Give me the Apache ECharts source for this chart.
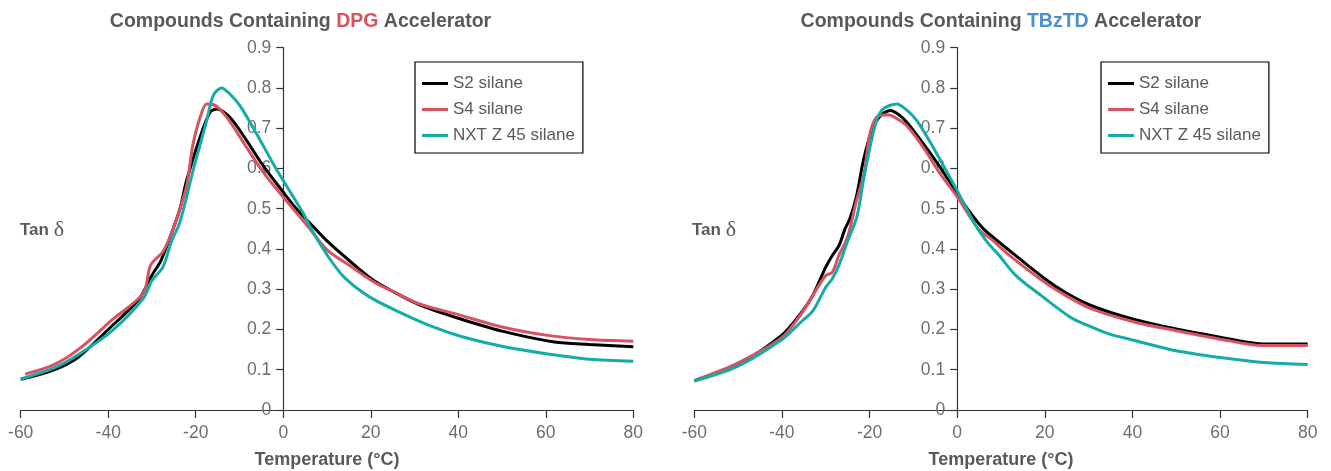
<!DOCTYPE html>
<html>
<head>
<meta charset="utf-8">
<script src="https://cdn.jsdelivr.net/npm/echarts@6/dist/echarts.min.js"></script>
<style>
html,body{margin:0;padding:0;background:#fff;}
#c{width:1331px;height:471px;}
</style>
</head>
<body>
<div id="c"></div>
<script>
// ---- Data ----
const seriesNames = ['S2 silane', 'S4 silane', 'NXT Z 45 silane'];
const xTicks = [-60, -40, -20, 0, 20, 40, 60, 80];
const yTicks = [0, 0.1, 0.2, 0.3, 0.4, 0.5, 0.6, 0.7, 0.8, 0.9];

// DPG accelerator (left panel)
const dpgS2_T = [-60,-53,-47,-40,-33,-30,-28,-25.5,-23.6,-22.1,-19,-16.7,-15.2,-12.2,-8.4,-4.6,0,3,6.9,10,15,20.5,25,31,40,50,62,70,80];
const dpgS2_V = [0.076,0.097,0.13,0.2,0.275,0.335,0.37,0.44,0.5,0.57,0.678,0.74,0.748,0.727,0.67,0.607,0.541,0.5,0.455,0.42,0.372,0.323,0.295,0.262,0.228,0.196,0.169,0.163,0.157];
const dpgS4_T = [-59,-52.5,-46.5,-39,-32,-30.3,-27.5,-25.5,-23.6,-22,-21.3,-20.6,-19,-17.5,-16,-12.9,-8.4,-4.6,0,5.7,10,15,20.7,25,31,40,50,60,70,80];
const dpgS4_V = [0.089,0.112,0.153,0.225,0.29,0.36,0.393,0.44,0.5,0.56,0.612,0.661,0.727,0.76,0.759,0.727,0.653,0.591,0.529,0.455,0.398,0.36,0.318,0.295,0.264,0.237,0.206,0.186,0.175,0.171];
const dpgNXT_T = [-60,-52.5,-46.5,-39,-32,-30,-27.5,-25.5,-23.6,-20.6,-17.5,-16,-14.1,-12.2,-9.9,-6.1,-2.3,0,4.6,6.1,10.1,13.9,19.7,26.4,34.1,40.9,50.5,60,70,80];
const dpgNXT_V = [0.077,0.104,0.14,0.198,0.277,0.322,0.355,0.42,0.467,0.595,0.719,0.781,0.8,0.785,0.756,0.686,0.612,0.57,0.488,0.455,0.384,0.33,0.281,0.244,0.207,0.182,0.157,0.14,0.126,0.121];

// TBzTD accelerator (right panel)
const tbzS2_T = [-60,-50,-40,-35.7,-33,-30,-28.5,-27,-25.6,-24.5,-23,-21.4,-19.5,-17.6,-15.3,-13.5,-11.5,-7.7,-3.9,0,3,6,11.5,20,25,30.7,40,50,60,70,80];
const tbzS2_V = [0.073,0.114,0.186,0.24,0.284,0.355,0.384,0.408,0.45,0.475,0.53,0.62,0.694,0.73,0.744,0.735,0.715,0.661,0.603,0.537,0.49,0.45,0.4,0.326,0.29,0.259,0.226,0.201,0.181,0.164,0.164];
const tbzS4_T = [-60,-50,-40,-35.7,-33,-30,-28.5,-27,-25,-23.1,-21.2,-20.2,-19.3,-18.4,-17,-15.5,-13.5,-11.5,-7.7,-3.9,0,4.8,7.7,11.5,20,25,30.7,40,50,60,70,80];
const tbzS4_V = [0.073,0.117,0.18,0.237,0.284,0.334,0.342,0.384,0.43,0.515,0.59,0.672,0.71,0.727,0.733,0.733,0.722,0.706,0.652,0.587,0.53,0.45,0.425,0.388,0.317,0.283,0.251,0.22,0.197,0.176,0.16,0.16];
const tbzNXT_T = [-60,-50,-40,-35.7,-32.9,-30,-28.5,-27,-25,-22.9,-21.4,-19.9,-18.4,-16.9,-13.8,-11.5,-9.2,-5.5,0,4.4,7,9.5,13.4,19.2,25.9,29.8,34.6,40,50,59.6,70,80];
const tbzNXT_V = [0.072,0.109,0.175,0.218,0.247,0.305,0.326,0.359,0.42,0.48,0.57,0.653,0.719,0.748,0.76,0.745,0.719,0.653,0.545,0.455,0.415,0.385,0.334,0.284,0.23,0.21,0.189,0.174,0.147,0.131,0.118,0.113];

const colors = ['#000000', '#d8525f', '#14aca8'];
const pairs = (t, v) => t.map((x, i) => [x, v[i]]);

const chart = echarts.init(document.getElementById('c'), null, {renderer: 'canvas'});
const FONT = 'Liberation Sans';
const tickGray = '#6d6e71';
const textGray = '#58595b';
const axisCol = '#333333';

// panel geometry (pixels): plot from -60 to 80, y axis drawn at x = 0
const panels = [
  {left: 20.7, right: 633.3},
  {left: 694.3, right: 1307.7}
];
const W = 1331, TOP = 47.7, BOTTOM = 61;

const grids = [];
panels.forEach(p => {
  grids.push({left: p.left, right: W - p.right, top: TOP, bottom: BOTTOM, outerBoundsMode: 'none', containLabel: false});
});
panels.forEach(p => {
  const zeroX = p.left + (0 - (-60)) / 140 * (p.right - p.left);
  grids.push({left: zeroX, right: W - p.right, top: TOP, bottom: BOTTOM, outerBoundsMode: 'none', containLabel: false});
});

function xAxisCfg(gi) {
  return {
    gridIndex: gi, type: 'value', min: -60, max: 80, interval: 20,
    name: 'Temperature (\u00B0C)', nameLocation: 'middle', nameGap: 41,
    nameTextStyle: {fontFamily: FONT, fontSize: 18, fontWeight: 'bold', color: textGray},
    axisLine: {show: true, onZero: false, lineStyle: {color: axisCol, width: 1.2}},
    axisTick: {show: true, length: 8, lineStyle: {color: axisCol, width: 1.2}},
    axisLabel: {fontFamily: FONT, fontSize: 17.5, color: tickGray, margin: 14},
    splitLine: {show: false}
  };
}
function hiddenXAxis(gi) {
  return {gridIndex: gi, type: 'value', min: 0, max: 80, show: false};
}
function dataYAxis(gi) {
  return {gridIndex: gi, type: 'value', min: 0, max: 0.9, interval: 0.1, show: false};
}
function yAxisCfg(gi) {
  return {
    gridIndex: gi, type: 'value', min: 0, max: 0.9, interval: 0.1,
    axisLine: {show: true, onZero: false, lineStyle: {color: axisCol, width: 1.2}},
    axisTick: {show: true, length: 7, lineStyle: {color: axisCol, width: 1.2}},
    axisLabel: {fontFamily: FONT, fontSize: 17.5, color: tickGray, margin: 12,
      formatter: v => String(Math.round(v * 10) / 10)},
    splitLine: {show: false}
  };
}
function lineSeries(name, data, gi, ci) {
  return {
    name: name, type: 'line', xAxisIndex: gi, yAxisIndex: gi,
    data: data, symbol: 'none', smooth: 0.3,
    lineStyle: {color: colors[ci], width: 3},
    itemStyle: {color: colors[ci]},
    z: 3 + ci
  };
}
function legendCfg(left) {
  return {
    data: seriesNames, left: left, top: 62, orient: 'vertical',
    borderColor: '#000', borderWidth: 1.2, borderRadius: 0,
    padding: [13, 8, 9, 7], itemWidth: 26, itemHeight: 3, itemGap: 9,
    icon: 'rect',
    textStyle: {fontFamily: FONT, fontSize: 17, color: textGray},
    selectedMode: false
  };
}

const titleRich = {
  a: {fontFamily: FONT, fontSize: 19.5, fontWeight: 'bold', fill: textGray},
  r: {fontFamily: FONT, fontSize: 19.5, fontWeight: 'bold', fill: '#d8525f'},
  b: {fontFamily: FONT, fontSize: 19.5, fontWeight: 'bold', fill: '#4a8fd2'}
};
const tanRich = {
  a: {fontFamily: FONT, fontSize: 17, fontWeight: 'bold', fill: textGray},
  d: {fontFamily: 'Liberation Serif', fontSize: 22, fill: textGray}
};

chart.setOption({
  animation: false,
  backgroundColor: '#ffffff',
  grid: grids,
  xAxis: [xAxisCfg(0), xAxisCfg(1), hiddenXAxis(2), hiddenXAxis(3)],
  yAxis: [dataYAxis(0), dataYAxis(1), yAxisCfg(2), yAxisCfg(3)],
  legend: [legendCfg(415), legendCfg(1101)],
  graphic: [
    {type: 'text', x: 300.5, y: 22, style: {text: '{a|Compounds Containing }{r|DPG}{a| Accelerator}', rich: titleRich, align: 'center', verticalAlign: 'middle'}},
    {type: 'text', x: 1001, y: 22, style: {text: '{a|Compounds Containing }{b|TBzTD}{a| Accelerator}', rich: titleRich, align: 'center', verticalAlign: 'middle'}},
    {type: 'text', x: 20, y: 230, style: {text: '{a|Tan }{d|\u03B4}', rich: tanRich, align: 'left', verticalAlign: 'middle'}},
    {type: 'text', x: 692, y: 230, style: {text: '{a|Tan }{d|\u03B4}', rich: tanRich, align: 'left', verticalAlign: 'middle'}}
  ],
  series: [
    lineSeries(seriesNames[0], pairs(dpgS2_T, dpgS2_V), 0, 0),
    lineSeries(seriesNames[1], pairs(dpgS4_T, dpgS4_V), 0, 1),
    lineSeries(seriesNames[2], pairs(dpgNXT_T, dpgNXT_V), 0, 2),
    lineSeries(seriesNames[0], pairs(tbzS2_T, tbzS2_V), 1, 0),
    lineSeries(seriesNames[1], pairs(tbzS4_T, tbzS4_V), 1, 1),
    lineSeries(seriesNames[2], pairs(tbzNXT_T, tbzNXT_V), 1, 2)
  ]
});
</script>
</body>
</html>
